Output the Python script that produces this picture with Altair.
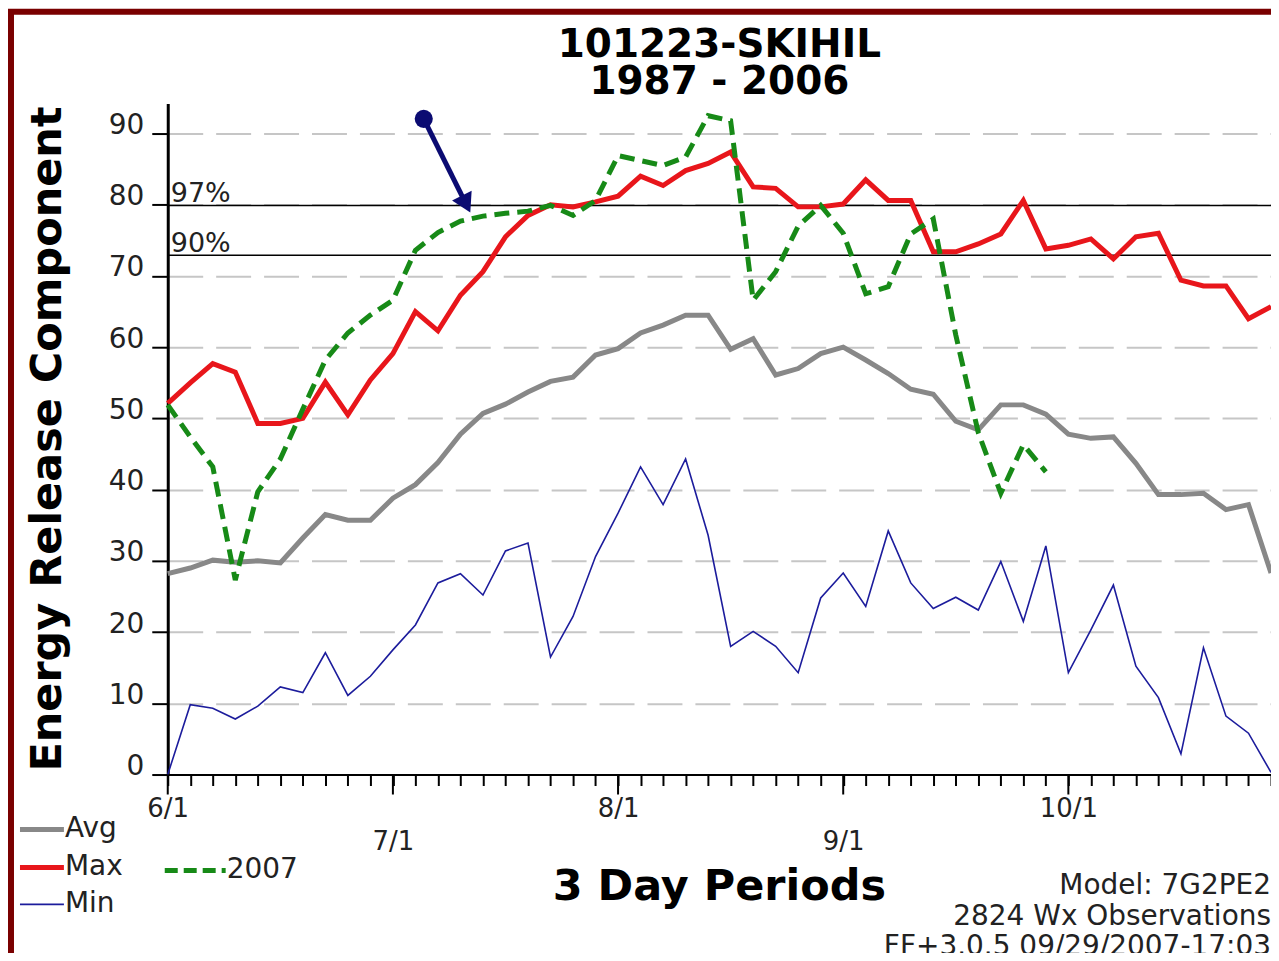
import altair as alt
import pandas as pd

# ---------------- data ----------------
periods = list(range(50))  # 3-day periods starting 6/1

avg_vals = [28.2, 29.0, 30.1, 29.8, 30.0, 29.7, 33.2, 36.5, 35.7, 35.7,
            38.8, 40.7, 43.8, 47.8, 50.7, 52.0, 53.7, 55.2, 55.8, 58.9,
            59.8, 62.0, 63.1, 64.5, 64.5, 59.7, 61.2, 56.1, 57.0, 59.1,
            60.0, 58.2, 56.3, 54.1, 53.4, 49.6, 48.4, 51.9, 51.9, 50.6,
            47.8, 47.2, 47.4, 43.7, 39.3, 39.3, 39.5, 37.2, 37.9, 28.3]
max_vals = [52.1, 55.0, 57.7, 56.5, 49.3, 49.3, 50.0, 55.1, 50.5, 55.4,
            59.1, 65.0, 62.3, 67.3, 70.6, 75.5, 78.5, 80.0, 79.7, 80.4,
            81.2, 84.0, 82.7, 84.8, 85.8, 87.4, 82.5, 82.3, 79.7, 79.7,
            80.1, 83.5, 80.6, 80.6, 73.4, 73.4, 74.5, 75.9, 80.6, 73.8,
            74.3, 75.2, 72.4, 75.5, 76.0, 69.4, 68.6, 68.6, 64.0, 65.7]
min_vals = [0.0, 9.8, 9.3, 7.8, 9.6, 12.3, 11.5, 17.1, 11.1, 13.8,
            17.5, 21.0, 26.9, 28.2, 25.2, 31.4, 32.5, 16.5, 22.2, 30.6,
            36.7, 43.2, 37.9, 44.3, 33.6, 18.0, 20.1, 18.0, 14.3, 24.8,
            28.3, 23.6, 34.2, 26.9, 23.3, 24.9, 23.1, 29.9, 21.5, 32.1,
            14.3, 20.3, 26.6, 15.2, 10.8, 2.9, 17.8, 8.2, 5.8, 0.3]
y2007_vals = [51.9, 47.4, 43.2, 27.3, 39.7, 44.3, 51.3, 58.2, 62.0, 64.5,
              66.6, 73.6, 76.1, 77.7, 78.4, 78.8, 79.1, 79.9, 78.5, 80.6,
              86.9, 86.2, 85.5, 86.7, 92.5, 91.8, 66.6, 70.6, 77.0, 79.9,
              76.0, 67.5, 68.5, 75.9, 78.0, 61.7, 48.0, 39.5, 46.3, 42.5]

month_ticks = [0, 10, 20, 30, 40]
month_labels = ["6/1", "7/1", "8/1", "9/1", "10/1"]
y_ticks = [0, 10, 20, 30, 40, 50, 60, 70, 80, 90]

pct_levels = [79.9, 72.9]
pct_labels = ["97%", "90%"]

arrow_start = [11.37, 92.06]   # period, value of the dot
arrow_end = [13.25, 80.1]      # period, value of the arrow head

title_lines = ["101223-SKIHIL", "1987 - 2006"]
note_lines = ["Model: 7G2PE2", "2824 Wx Observations", "FF+3.0.5 09/29/2007-17:03"]

# ---------------- layout / style ----------------
W, H = 1105, 672
FONT = "DejaVu Sans"
TXT = "#222222"
C_AVG, C_MAX, C_MIN, C_07 = "#888888", "#e8161b", "#1c1c9c", "#178a17"
NAVY = "#0b0b72"
FRAME = "#7a0000"

x_scale = alt.Scale(domain=[0, 49], nice=False, zero=False)
y_scale = alt.Scale(domain=[0, 94.2], nice=False, zero=False)

label_expr = " : ".join(
    f"datum.value == {v} ? '{l}'" for v, l in zip(month_ticks, month_labels)
) + " : ''"

x_axis = alt.Axis(
    values=periods, title=None, grid=False,
    domainColor="black", domainWidth=2,
    tickColor="black", tickWidth=2, tickSize=11,
    labelExpr=label_expr, labelFont=FONT, labelFontSize=26, labelColor=TXT,
    labelBaseline="top", labelFlush=False, labelOverlap=False,
    labelPadding={"condition": {"test": "datum.value == 10 || datum.value == 30", "value": 43},
                  "value": 10},
)
y_axis = alt.Axis(
    values=y_ticks, title=None, grid=True,
    gridDash=[35, 13], gridColor="#c6c6c6", gridWidth=2,
    domainColor="black", domainWidth=3,
    tickColor="black", tickWidth=2, tickSize=16,
    labelFont=FONT, labelFontSize=28, labelColor=TXT, labelPadding=8,
    labelBaseline="alphabetic", labelOffset=0,
)

X = alt.X("period:Q", scale=x_scale, axis=x_axis)
Y = alt.Y("value:Q", scale=y_scale, axis=y_axis)


def sdf(vals):
    return pd.DataFrame({"period": periods[:len(vals)], "value": vals})


one = pd.DataFrame({"k": [0]})

# dark red frame along the top and left edges of the picture
frame = alt.Chart(one).mark_rect(fill=None, fillOpacity=0, stroke=FRAME, strokeWidth=6).encode(
    x=alt.value(-157), x2=alt.value(W + 60), y=alt.value(-92), y2=alt.value(H + 300)
)

# percentile reference lines
pct_df = pd.DataFrame({"value": pct_levels, "label": pct_labels})
pct_rules = alt.Chart(pct_df).mark_rule(color="black", strokeWidth=1.6).encode(y=Y)
pct_text = alt.Chart(pct_df).mark_text(
    align="left", baseline="alphabetic", dy=-3, font=FONT, fontSize=27, color=TXT
).encode(x=alt.value(3), y=Y, text="label:N")

# series
avg_line = alt.Chart(sdf(avg_vals)).mark_line(color=C_AVG, strokeWidth=5).encode(x=X, y=Y)
min_line = alt.Chart(sdf(min_vals)).mark_line(color=C_MIN, strokeWidth=1.6).encode(x=X, y=Y)
max_line = alt.Chart(sdf(max_vals)).mark_line(color=C_MAX, strokeWidth=5).encode(x=X, y=Y)
y07_line = alt.Chart(sdf(y2007_vals)).mark_line(
    color=C_07, strokeWidth=5, strokeDash=[15, 8]
).encode(x=X, y=Y)

# month ticks (longer)
mt_df = pd.DataFrame({"period": month_ticks})
month_rules = alt.Chart(mt_df).mark_rule(color="black", strokeWidth=2).encode(
    x=X, y=alt.value(H), y2=alt.value(H + 20)
)

# arrow annotation
arr_df = pd.DataFrame({"period": [arrow_start[0]], "value": [arrow_start[1]],
                       "period2": [arrow_end[0]], "value2": [arrow_end[1]]})
arrow_shaft = alt.Chart(arr_df).mark_rule(color=NAVY, strokeWidth=5).encode(
    x=X, y=Y, x2="period2:Q", y2="value2:Q"
)
arrow_dot = alt.Chart(arr_df).mark_point(
    shape="circle", filled=True, opacity=1, color=NAVY, size=330
).encode(x=X, y=Y)
head_df = pd.DataFrame({"period": [arrow_end[0]], "value": [arrow_end[1]]})
arrow_head = alt.Chart(head_df).mark_point(
    shape="triangle-up", filled=True, opacity=1, color=NAVY, size=480, angle=153.5
).encode(x=X, y=Y)


def txt(text, x, y, size=28, weight="normal", align="center", angle=0, color=TXT,
        baseline="middle", line_height=None):
    kw = dict(text=text, font=FONT, fontSize=size, fontWeight=weight, align=align,
              baseline=baseline, angle=angle, color=color)
    if line_height:
        kw["lineHeight"] = line_height
    return alt.Chart(one).mark_text(**kw).encode(x=alt.value(x), y=alt.value(y))


titles = [
    txt(title_lines, W / 2, -47, size=39, weight="bold", color="black",
        baseline="alphabetic", line_height=37),
    txt("Energy Release Component", -120, H / 2, size=43, weight="bold", angle=270, color="black"),
    txt("3 Day Periods", W / 2, 785, size=43, weight="bold", color="black"),
]
notes = [txt(t, W, y, size=28, align="right") for t, y in zip(note_lines, [784, 815, 845])]

# legend (bottom-left)
def leg_line(x1, x2, y, color, width, dash=None):
    kw = dict(color=color, strokeWidth=width)
    if dash:
        kw["strokeDash"] = dash
    return alt.Chart(one).mark_rule(**kw).encode(
        x=alt.value(x1), x2=alt.value(x2), y=alt.value(y)
    )

legend = [
    leg_line(-148, -104, 727, C_AVG, 5), txt("Avg", -103, 727, size=28, align="left"),
    leg_line(-148, -104, 765, C_MAX, 5), txt("Max", -103, 765, size=28, align="left"),
    leg_line(-148, -104, 802, C_MIN, 1.6), txt("Min", -103, 802, size=28, align="left"),
    leg_line(-3, 58, 768, C_07, 5, [13, 6]), txt("2007", 59, 768, size=28, align="left"),
]

chart = alt.layer(
    pct_rules, pct_text, avg_line, min_line, max_line, y07_line,
    month_rules, arrow_shaft, arrow_dot, arrow_head,
    *titles, *notes, *legend, frame
).properties(
    width=W, height=H,
    autosize=alt.AutoSizeParams(type="none"),
    padding={"left": 160, "top": 95, "right": 0, "bottom": 178},
    background="white",
).configure_view(stroke=None)

chart.save("out.html", embed_options={"renderer": "svg", "actions": False})
